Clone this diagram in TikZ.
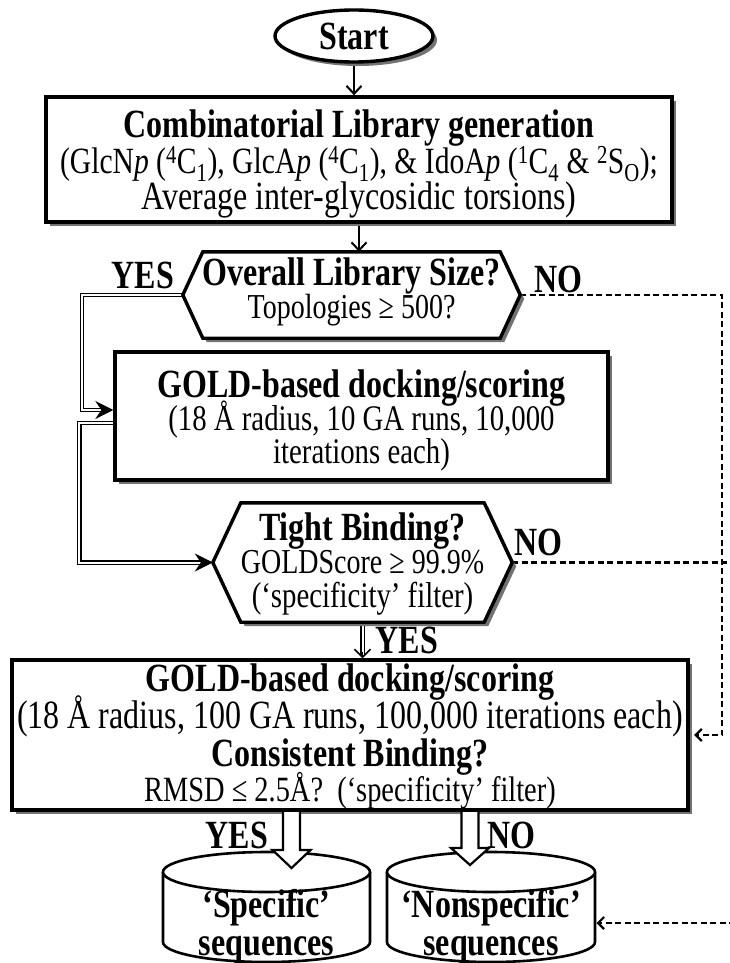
\documentclass[tikz,border=0pt]{standalone}
\usepackage{fontspec}
\setmainfont{Liberation Serif}[FakeStretch=0.8]
\usetikzlibrary{arrows.meta,shadows,calc,shapes.geometric}
\pgfdeclarelayer{bg}
\pgfdeclarelayer{mid}
\pgfsetlayers{bg,mid,main}
\newcommand{\hexoutline}[2]{%
  \draw[hexline] (#1.north west) -- (#1.north east) -- ([xshift=#2pt]#1.east) -- (#1.south east) -- (#1.south west) -- ([xshift=-#2pt]#1.west) -- cycle;}
\newcommand{\cylshape}[4]{%
  \draw[cylsh] ({#1-#2},#3) -- ({#1-#2},#4) arc[start angle=180,end angle=0,x radius=#2,y radius=20] -- ({#1+#2},#3);
  \draw[cylsh] (#1,#3) ellipse[x radius=#2,y radius=20];}
\newcommand{\blockarr}[4]{%
  \draw[blk] ({#1-8.5},#2) -- ({#1-8.5},#3) -- ({#1-19},#3) -- (#1,#4) -- ({#1+19},#3) -- ({#1+8.5},#3) -- ({#1+8.5},#2);}
\begin{document}
\begin{tikzpicture}[x=1pt,y=-1pt,
  shad/.style={drop shadow={shadow xshift=4pt,shadow yshift=-4pt,fill=black!55,opacity=1}},
  box/.style={draw,line width=3.4pt,fill=white,inner sep=0pt,shad},
  hexin/.style={inner sep=0pt},
  hexline/.style={draw,line width=3.4pt,fill=white,line join=miter,shad},
  ln/.style={anchor=base,inner sep=0pt,font=\fontsize{40}{40}\selectfont},
  sln/.style={anchor=base,inner sep=0pt,font=\fontsize{35.5}{40}\selectfont},
  bln/.style={anchor=base,inner sep=0pt,font=\bfseries\fontsize{40}{40}\selectfont},
  arr/.style={line width=2pt,-{Straight Barb[length=8pt,width=15pt]}},
  dbl/.style={double,double distance=2pt,line width=1.2pt},
  dbltip/.style={line width=1pt,-{Stealth[length=18pt,width=18pt,inset=6pt]}},
  vtip/.style={line width=1.6pt,-{Straight Barb[length=8pt,width=16pt]}},
  dashln/.style={line width=2.2pt,dash pattern=on 6pt off 3.5pt,-{Straight Barb[length=6pt,width=12pt]}},
  cylsh/.style={line width=2.6pt,fill=white},
  blk/.style={line width=2.2pt,fill=white,line join=miter},
]
\useasboundingbox (0,0) rectangle (730,963);
\begin{pgfonlayer}{bg}
  \fill[white] (0,0) rectangle (730,963);
\end{pgfonlayer}

% ---- start
\node[draw,ellipse,line width=3.4pt,fill=white,minimum width=158pt,minimum height=52pt,inner sep=0pt,shad,font=\bfseries\fontsize{40}{40}\selectfont] (start) at (354,36) {Start};

% ---- box 1
\node[box,minimum width=626pt,minimum height=125pt] (b1) at (359,159.5) {};
\node[bln] (b1a) at (359,138) {Combinatorial Library generation};
\node[sln,font=\fontsize{37}{40}\selectfont] (b1b) at (359,173) {(GlcN\textit{p} (\textsuperscript{4}C\textsubscript{1}), GlcA\textit{p} (\textsuperscript{4}C\textsubscript{1}), \& IdoA\textit{p} (\textsuperscript{1}C\textsubscript{4} \& \textsuperscript{2}S\textsubscript{O});};
\node[ln] (b1c) at (359,209) {Average inter-glycosidic torsions)};

% ---- hexagon 1
\node[hexin,minimum width=297pt,minimum height=86pt] (h1) at (351.5,295) {};
\coordinate (h1w) at ([xshift=-20pt]h1.west);
\coordinate (h1e) at ([xshift=20pt]h1.east);
\node[bln] (h1a) at (351.5,285) {Overall Library Size?};
\node[sln,font=\fontsize{35}{40}\selectfont] (h1b) at (351.5,318) {Topologies ≥ 500?};

% ---- box 2
\node[box,minimum width=493pt,minimum height=128pt] (b2) at (361.5,416) {};
\node[bln] (b2a) at (361.5,397) {GOLD-based docking/scoring};
\node[sln,font=\fontsize{36}{40}\selectfont] (b2b) at (361.5,430) {(18 Å radius, 10 GA runs, 10,000};
\node[sln,font=\fontsize{36}{40}\selectfont] (b2c) at (361.5,463) {iterations each)};

% ---- hexagon 2
\node[hexin,minimum width=243pt,minimum height=119pt] (h2) at (362.5,562.5) {};
\coordinate (h2w) at ([xshift=-28pt]h2.west);
\coordinate (h2e) at ([xshift=28pt]h2.east);
\node[bln] (h2a) at (362.5,540) {Tight Binding?};
\node[sln,font=\fontsize{35}{40}\selectfont] (h2b) at (362.5,573) {GOLDScore ≥ 99.9\%};
\node[sln,font=\fontsize{36}{40}\selectfont] (h2c) at (362.5,607) {(‘specificity’ filter)};

% ---- box 3
\node[box,minimum width=676pt,minimum height=150pt] (b3) at (350,735) {};
\node[bln] (b3a) at (350,691) {GOLD-based docking/scoring};
\node[ln] (b3b) at (350,728) {(18 Å radius, 100 GA runs, 100,000 iterations each)};
\node[bln] (b3c) at (350,766) {Consistent Binding?};
\node[sln] (b3d) at (350,801) {RMSD ≤ 2.5Å?\ \ (‘specificity’ filter)};

% hexagon outlines
\begin{pgfonlayer}{mid}
  \hexoutline{h1}{20}
  \hexoutline{h2}{28}
\end{pgfonlayer}

% ---- cylinders
\cylshape{266.5}{103.5}{872}{942}
\cylshape{491}{104}{872}{942}
\node[bln] (c1a) at (266.5,917) {‘Specific’};
\node[bln] (c1b) at (266.5,955) {sequences};
\node[bln] (c2a) at (491,917) {‘Nonspecific’};
\node[bln] (c2b) at (491,955) {sequences};
\coordinate (c2e) at (596.5,923);

% ---- block arrows
\blockarr{291.5}{812}{850}{868}
\blockarr{470}{812}{848}{865}

% ---- labels
\node[bln] (yes1) at (143,288) {YES};
\node[bln] (no1) at (558,292) {NO};
\node[bln] (no2) at (538,555) {NO};
\node[bln] (yes2) at (407,653) {YES};
\node[bln] (yes3) at (237,848) {YES};
\node[bln] (no3) at (511,848) {NO};

% ---- connectors
\begin{pgfonlayer}{bg}
  \draw[arr] (start.south) -- (start.south |- b1.north);
  \draw[arr] (b1.south) -- (b1.south |- h1.north);
  \draw[dbl,shorten >=12pt] (h1w) -- ++(-101,0) |- ([yshift=6pt]b2.west);
  \draw[dbltip] ($([yshift=6pt]b2.west)+(-12,0)$) -- ([yshift=6pt]b2.west);
  \draw[dbl,shorten >=12pt] ([yshift=-7pt]b2.west) -- ++(-34,0) |- (h2w);
  \draw[dbltip] ($(h2w)+(-12,0)$) -- (h2w);
  \draw[dbl,shorten >=2pt] (h2.south) -- (h2.south |- b3.north);
  \draw[vtip] ($(h2.south |- b3.north)+(0,-6)$) -- (h2.south |- b3.north);
  \draw[dashln] (h1e) -- ++(202,0) |- ([xshift=4.5pt]b3.east);
  \draw[dashln] (h2e) -- ++(221,0) |- (c2e);
\end{pgfonlayer}
\end{tikzpicture}
\end{document}
